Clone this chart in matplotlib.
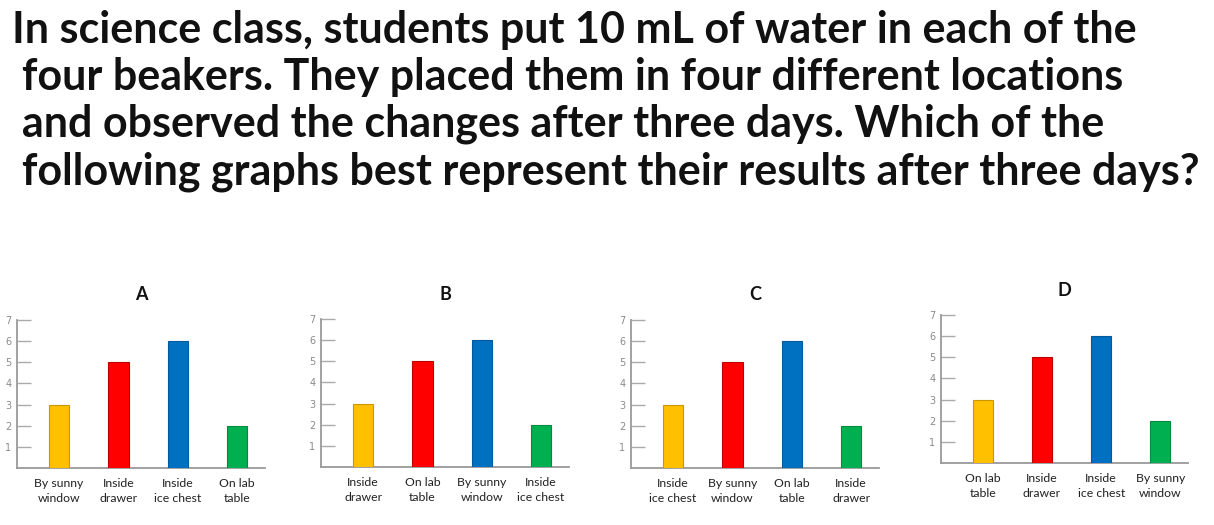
import matplotlib
matplotlib.use("Agg")
import matplotlib.pyplot as plt

W, H = 1214, 525

question_lines = [
    "In science class, students put 10 mL of water in each of the",
    "four beakers. They placed them in four different locations",
    "and observed the changes after three days. Which of the",
    "following graphs best represent their results after three days?",
]

chart_titles = ["A", "B", "C", "D"]
categories_A = ["By sunny\nwindow", "Inside\ndrawer", "Inside\nice chest", "On lab\ntable"]
categories_B = ["Inside\ndrawer", "On lab\ntable", "By sunny\nwindow", "Inside\nice chest"]
categories_C = ["Inside\nice chest", "By sunny\nwindow", "On lab\ntable", "Inside\ndrawer"]
categories_D = ["On lab\ntable", "Inside\ndrawer", "Inside\nice chest", "By sunny\nwindow"]
values = [3, 5, 6, 2]
yticks = [1, 2, 3, 4, 5, 6, 7]

bar_colors = ["#FFC000", "#FF0000", "#0070C0", "#00B050"]
edge_colors = ["#C99700", "#C00000", "#005A9C", "#008A3E"]

fig = plt.figure(figsize=(W / 100, H / 100), dpi=100)
fig.patch.set_facecolor("white")
renderer = fig.canvas.get_renderer()

# Question text, sized so that the longest line spans its width in the reference
title_family = ["Lato", "DejaVu Sans"]
line_x = [12, 22, 22, 22]
line_base = [43, 90, 137, 184]
target_w = 1176
probe = fig.text(0, 0, question_lines[3], fontsize=30, weight="bold", family=title_family)
pw = probe.get_window_extent(renderer).width
probe.remove()
fs = 30 * target_w / pw
for txt, x, yb in zip(question_lines, line_x, line_base):
    fig.text(x / W, 1 - yb / H, txt, ha="left", va="baseline", fontsize=fs,
             weight="bold", family=title_family, color="#111111")

# Axes boxes in pixel coords: (left, right, top(y=7), bottom(y=0))
boxes = [
    (17, 265, 320, 468),
    (321, 569, 319, 467),
    (631, 879, 320, 468),
    (941, 1188, 315, 463),
]
all_cats = [categories_A, categories_B, categories_C, categories_D]

axis_gray = "#9A9A9A"
for (l, r, t, b), title, cats in zip(boxes, chart_titles, all_cats):
    ax = fig.add_axes([l / W, 1 - b / H, (r - l) / W, (b - t) / H])
    x = list(range(len(values)))
    ax.bar(x, values, width=0.34, color=bar_colors, edgecolor=edge_colors, linewidth=0.8, zorder=3)
    ax.set_xlim(-0.71, 3.47)
    ax.set_ylim(0, 7)
    ax.set_yticks(yticks)
    ax.set_yticklabels([str(v) for v in yticks], fontsize=7, color="#8A8A8A",
                       family=["DejaVu Sans"])
    ax.tick_params(axis="y", direction="in", length=10, width=1.0, color="#AAAAAA", pad=4)
    ax.set_xticks(x)
    ax.set_xticklabels(cats, fontsize=8.8, color="#222222", family=["Lato", "DejaVu Sans"],
                       linespacing=1.45)
    ax.tick_params(axis="x", length=0, pad=7)
    for s in ["top", "right"]:
        ax.spines[s].set_visible(False)
    for s in ["left", "bottom"]:
        ax.spines[s].set_color(axis_gray)
        ax.spines[s].set_linewidth(1.3)
    ax.set_facecolor("white")
    ax.text(0.5, 1 + 25 / (b - t), title, transform=ax.transAxes, ha="center", va="center",
            fontsize=13, fontweight="bold", family=["Lato", "DejaVu Sans"], color="#111111")

fig.savefig("out.png", dpi=100, facecolor="white")
